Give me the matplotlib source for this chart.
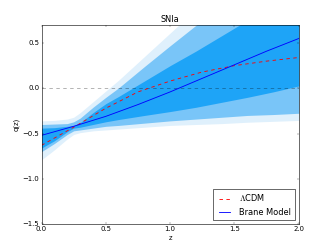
import numpy as np
import matplotlib
matplotlib.use("Agg")
import matplotlib.pyplot as plt

plt.style.use("classic")

z_band = [0.0, 0.1, 0.2, 0.25, 0.3, 0.4, 0.5, 0.6, 0.8, 1.0, 1.2, 1.4, 1.6, 1.8, 2.0]
# 3-sigma (lightest)
up3 = [-0.36, -0.355, -0.34, -0.32, -0.27, -0.15, -0.03, 0.09, 0.35, 0.61, 0.87, 1.13, 1.39, 1.65, 1.91]
lo3 = [-0.79, -0.68, -0.56, -0.51, -0.49, -0.47, -0.46, -0.45, -0.43, -0.41, -0.40, -0.39, -0.375, -0.365, -0.355]
# 2-sigma (middle)
up2 = [-0.40, -0.395, -0.39, -0.37, -0.33, -0.21, -0.10, 0.005, 0.24, 0.47, 0.695, 0.92, 1.15, 1.38, 1.61]
lo2 = [-0.70, -0.61, -0.51, -0.47, -0.46, -0.44, -0.42, -0.41, -0.385, -0.36, -0.34, -0.32, -0.30, -0.29, -0.276]
# 1-sigma (darkest)
up1 = [-0.44, -0.435, -0.42, -0.41, -0.38, -0.27, -0.17, -0.09, 0.08, 0.25, 0.41, 0.58, 0.75, 0.92, 1.09]
lo1 = [-0.66, -0.58, -0.48, -0.44, -0.43, -0.40, -0.37, -0.345, -0.30, -0.257, -0.21, -0.155, -0.10, -0.04, 0.026]

z_line = [0.0, 0.25, 0.5, 0.75, 1.0, 1.25, 1.5, 1.75, 2.0]
q_lcdm = [-0.63, -0.43, -0.22, -0.04, 0.08, 0.18, 0.25, 0.30, 0.34]
q_brane = [-0.52, -0.42, -0.31, -0.18, -0.04, 0.11, 0.26, 0.41, 0.55]

fig = plt.figure(figsize=(8, 6), dpi=41.5)
ax = fig.add_axes([0.125, 0.1, 0.775, 0.8])

ax.fill_between(z_band, lo3, up3, color="#dff0fc", lw=0)
ax.fill_between(z_band, lo2, up2, color="#79c5f8", lw=0)
ax.fill_between(z_band, lo1, up1, color="#1ea4f7", lw=0)

ax.axhline(0.0, color="k", ls="--", lw=1, alpha=0.5)

ax.plot(z_line, q_lcdm, color="red", ls="--", lw=1.5, label=r"$\Lambda$CDM")
ax.plot(z_line, q_brane, color="blue", ls="-", lw=1.5, label="Brane Model")

ax.set_xlim(0, 2)
ax.set_ylim(-1.5, 0.7)
ax.set_xticks([0.0, 0.5, 1.0, 1.5, 2.0])
ax.set_yticks([-1.5, -1.0, -0.5, 0.0, 0.5])
ax.set_xlabel("z")
ax.set_ylabel("q(z)")
ax.set_title("SNIa")
ax.legend(loc="lower right")

fig.savefig("out.png", dpi=41.5)
